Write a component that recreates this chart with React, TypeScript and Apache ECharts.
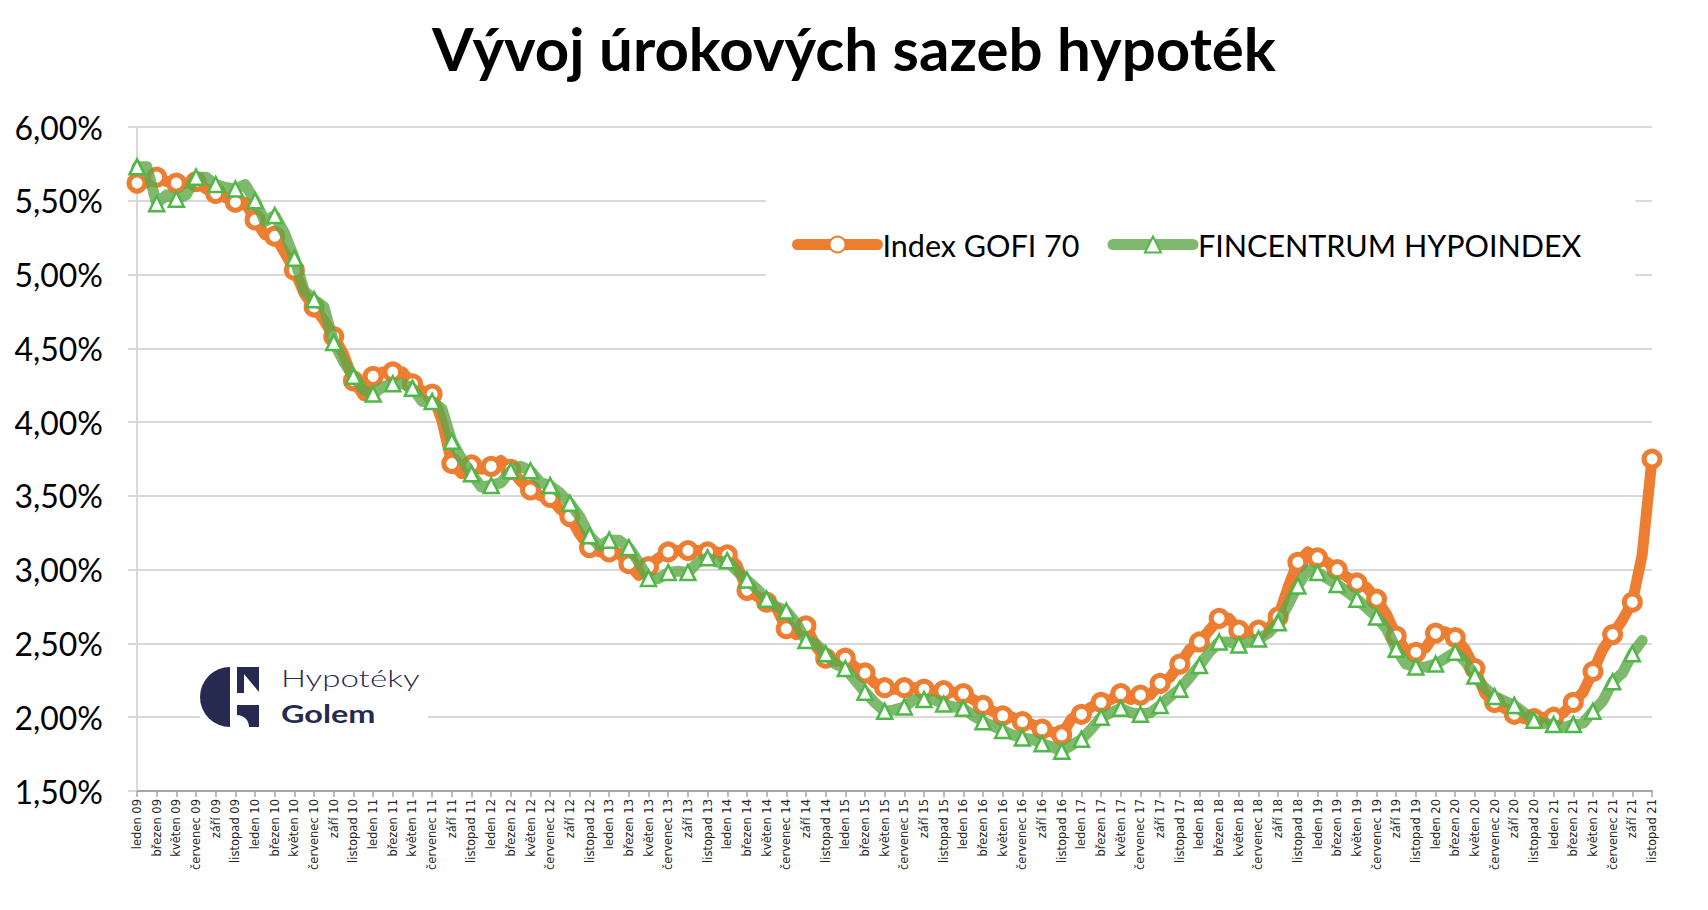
import React, { useEffect, useRef } from 'react';
import * as echarts from 'echarts';

// ---- categories (monthly, leden 09 .. listopad 21) ----
const MONTHS = ['leden', 'únor', 'březen', 'duben', 'květen', 'červen', 'červenec', 'srpen', 'září', 'říjen', 'listopad', 'prosinec'];
const YEARS = ['09', '10', '11', '12', '13', '14', '15', '16', '17', '18', '19', '20', '21'];
const LAST_MONTH_OF_LAST_YEAR = 10; // listopad 21
const CATEGORIES: string[] = [];
YEARS.forEach((y, yi) => {
  MONTHS.forEach((m, mi) => {
    if (yi < YEARS.length - 1 || mi <= LAST_MONTH_OF_LAST_YEAR) CATEGORIES.push(`${m} ${y}`);
  });
});

// ---- series values (%) ----
const GOFI_70 = [
  5.62, 5.62, 5.66, 5.63, 5.62, 5.62, 5.63, 5.58, 5.55, 5.52, 5.49, 5.49,
  5.37, 5.27, 5.26, 5.15, 5.03, 4.87, 4.78, 4.69, 4.58, 4.46, 4.28, 4.18,
  4.31, 4.34, 4.34, 4.34, 4.26, 4.21, 4.19, 4.01, 3.72, 3.65, 3.71, 3.68,
  3.70, 3.74, 3.68, 3.60, 3.54, 3.50, 3.49, 3.41, 3.36, 3.24, 3.15, 3.12,
  3.12, 3.11, 3.04, 2.96, 3.02, 3.08, 3.12, 3.13, 3.13, 3.13, 3.12, 3.12,
  3.10, 3.03, 2.86, 2.82, 2.78, 2.74, 2.60, 2.56, 2.62, 2.48, 2.40, 2.38,
  2.40, 2.34, 2.30, 2.23, 2.20, 2.19, 2.20, 2.20, 2.19, 2.18, 2.18, 2.17,
  2.16, 2.12, 2.08, 2.04, 2.01, 2.00, 1.97, 1.95, 1.92, 1.90, 1.88, 1.99,
  2.02, 2.07, 2.10, 2.12, 2.16, 2.12, 2.15, 2.15, 2.23, 2.27, 2.36, 2.46,
  2.51, 2.59, 2.67, 2.67, 2.59, 2.58, 2.59, 2.60, 2.68, 2.88, 3.05, 3.12,
  3.08, 3.05, 3.00, 2.95, 2.91, 2.88, 2.80, 2.70, 2.55, 2.45, 2.44, 2.47,
  2.57, 2.58, 2.54, 2.46, 2.33, 2.16, 2.10, 2.06, 2.02, 1.99, 1.99, 2.00,
  2.00, 2.03, 2.10, 2.17, 2.31, 2.46, 2.56, 2.66, 2.78, 3.10, 3.75,
];

const HYPOINDEX = [
  5.73, 5.73, 5.48, 5.54, 5.51, 5.54, 5.66, 5.66, 5.61, 5.59, 5.58, 5.61,
  5.50, 5.36, 5.40, 5.28, 5.11, 4.89, 4.83, 4.78, 4.54, 4.41, 4.31, 4.22,
  4.19, 4.24, 4.26, 4.26, 4.23, 4.14, 4.14, 4.09, 3.87, 3.75, 3.65, 3.56,
  3.57, 3.59, 3.67, 3.70, 3.67, 3.59, 3.57, 3.52, 3.45, 3.36, 3.23, 3.16,
  3.20, 3.20, 3.15, 3.05, 2.94, 2.94, 2.98, 2.99, 2.98, 3.05, 3.08, 3.05,
  3.06, 2.99, 2.93, 2.87, 2.80, 2.75, 2.72, 2.64, 2.52, 2.50, 2.43, 2.36,
  2.33, 2.25, 2.17, 2.10, 2.04, 2.05, 2.07, 2.12, 2.12, 2.12, 2.09, 2.07,
  2.06, 2.01, 1.97, 1.94, 1.91, 1.88, 1.86, 1.85, 1.82, 1.80, 1.77, 1.81,
  1.85, 1.92, 2.00, 2.03, 2.06, 2.03, 2.02, 2.03, 2.08, 2.14, 2.19, 2.27,
  2.35, 2.44, 2.51, 2.51, 2.49, 2.51, 2.53, 2.57, 2.64, 2.76, 2.89, 3.00,
  2.98, 2.94, 2.90, 2.85, 2.80, 2.74, 2.68, 2.60, 2.46, 2.36, 2.34, 2.34,
  2.36, 2.40, 2.44, 2.38, 2.28, 2.20, 2.14, 2.11, 2.08, 2.03, 1.98, 1.96,
  1.95, 1.93, 1.95, 1.96, 2.04, 2.11, 2.24, 2.30, 2.43, 2.52,
];

// ---- axis ----
const Y_MIN = 1.5;
const Y_MAX = 6;
const Y_INTERVAL = 0.5;

const TITLE = 'Vývoj úrokových sazeb hypoték';
const SERIES_NAMES = ['Index GOFI 70', 'FINCENTRUM HYPOINDEX'];

const ORANGE = '#ED7D31';
const GREEN = '#5fa84a';
const GREEN_MARK = '#4fb848';
const NAVY = '#272a50';

export default function App() {
  const ref = useRef<HTMLDivElement>(null);

  useEffect(() => {
    document.body.style.margin = '0';
    const chart = echarts.init(ref.current!, undefined, { renderer: 'svg' });
    chart.setOption({
      animation: false,
      backgroundColor: '#fff',
      title: {
        text: TITLE,
        left: 'center',
        top: 13,
        textStyle: { fontFamily: 'Lato', fontWeight: 'bold', fontSize: 60, color: '#000' },
      },
      grid: { left: 137, right: 56, top: 127, bottom: 119, containLabel: false },
      legend: {
        left: 766,
        top: 195,
        padding: [34, 54, 34, 26],
        backgroundColor: '#fff',
        itemWidth: 80,
        itemHeight: 20,
        itemGap: 28,
        lineStyle: { width: 11, cap: 'round' },
        textStyle: { fontFamily: 'Lato', fontSize: 30.5, color: '#000' },
        data: SERIES_NAMES,
      },
      xAxis: {
        type: 'category',
        data: CATEGORIES,
        boundaryGap: false,
        axisLine: { show: true, lineStyle: { color: '#a6a6a6', width: 2 } },
        axisTick: { show: true, interval: 1, length: 6, lineStyle: { color: '#a6a6a6', width: 1.5 } },
        axisLabel: {
          interval: 1,
          rotate: 90,
          margin: 8,
          fontFamily: 'DejaVu Sans',
          fontSize: 11.5,
          color: '#262626',
        },
        splitLine: { show: false },
      },
      yAxis: {
        type: 'value',
        min: Y_MIN,
        max: Y_MAX,
        interval: Y_INTERVAL,
        axisLine: { show: true, lineStyle: { color: '#d9d9d9', width: 2 } },
        axisTick: { show: true, length: 9, lineStyle: { color: '#d9d9d9', width: 2 } },
        axisLabel: {
          margin: 34,
          fontFamily: 'Lato',
          fontSize: 32,
          color: '#000',
          formatter: (v: number) => v.toFixed(2).replace('.', ',') + '%',
        },
        splitLine: { show: true, lineStyle: { color: '#d9d9d9', width: 2 } },
      },
      series: [
        {
          name: SERIES_NAMES[0],
          type: 'line',
          data: GOFI_70,
          symbol: 'circle',
          symbolSize: 16,
          itemStyle: { color: '#fff', borderColor: ORANGE, borderWidth: 5 },
          lineStyle: { color: ORANGE, width: 11, cap: 'round', join: 'round' },
          z: 2,
        },
        {
          name: SERIES_NAMES[1],
          type: 'line',
          data: HYPOINDEX,
          symbol: 'triangle',
          symbolSize: 15,
          itemStyle: { color: '#fff', borderColor: GREEN_MARK, borderWidth: 2.5 },
          lineStyle: { color: GREEN, width: 11, opacity: 0.8, cap: 'round', join: 'round' },
          z: 3,
        },
      ],
      graphic: [
        { type: 'rect', z: 10, shape: { x: 200, y: 660, width: 228, height: 86 }, style: { fill: '#fff' } },
        {
          type: 'sector',
          z: 11,
          shape: { cx: 230, cy: 697, r: 30, startAngle: Math.PI / 2, endAngle: (3 * Math.PI) / 2, clockwise: true },
          style: { fill: NAVY },
        },
        {
          type: 'polygon',
          z: 11,
          shape: { points: [[237, 667], [259, 667], [259, 692], [244, 674], [244, 693], [237, 693]] },
          style: { fill: NAVY },
        },
        { type: 'rect', z: 11, shape: { x: 237, y: 705, width: 22, height: 22 }, style: { fill: NAVY } },
        {
          type: 'sector',
          z: 12,
          shape: { cx: 237, cy: 727, r: 12, startAngle: -Math.PI / 2, endAngle: 0, clockwise: true },
          style: { fill: '#fff' },
        },
        {
          type: 'text',
          z: 12,
          x: 281,
          y: 665,
          scaleX: 1.38,
          style: { text: 'Hypotéky', fill: NAVY, font: '300 24px Lato' },
        },
        {
          type: 'text',
          z: 12,
          x: 281,
          y: 702,
          scaleX: 1.35,
          style: { text: 'Golem', fill: NAVY, font: 'bold 24px Lato' },
        },
      ],
    });
    return () => chart.dispose();
  }, []);

  return <div ref={ref} style={{ position: 'absolute', left: 0, top: 0, width: 1708, height: 910 }} />;
}
